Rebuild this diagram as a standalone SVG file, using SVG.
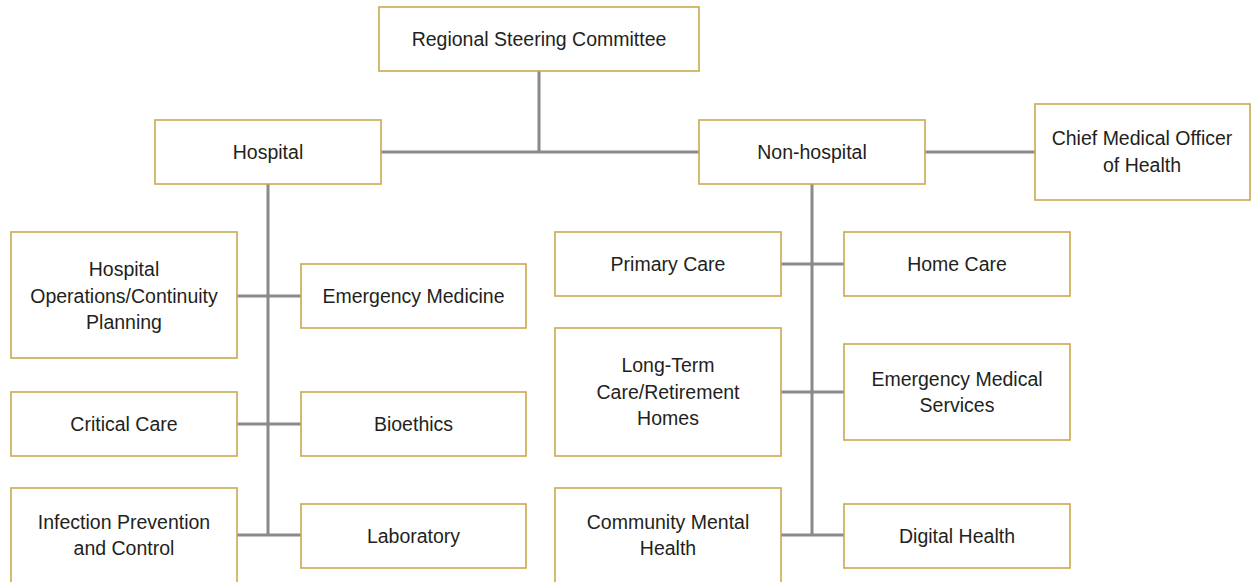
<svg xmlns="http://www.w3.org/2000/svg" width="1251" height="582" viewBox="0 0 1251 582">
<style>
.box{fill:#fff;stroke:#c9a94b;stroke-width:1.6}
.lbl{font-family:"Liberation Sans",Arial,sans-serif;font-size:19.5px;fill:#231f20;text-anchor:middle}
.conn{stroke:#8a8a8c;stroke-width:3;fill:none}
</style>
<rect width="1251" height="582" fill="#fff"/>
<g id="connectors">
<path class="conn" d="M539 71V152M381 152H699M925 152H1035"/>
<path class="conn" d="M268 184V535M237 296H301M237 424H301M237 535H301"/>
<path class="conn" d="M812 184V535M781 264H844M781 392H844M781 535H844"/>
</g>
<g id="regional-steering-committee"><rect class="box" x="379" y="7" width="320" height="64"/><text class="lbl" x="539" y="46">Regional Steering Committee</text></g>
<g id="hospital"><rect class="box" x="155" y="120" width="226" height="64"/><text class="lbl" x="268" y="159">Hospital</text></g>
<g id="non-hospital"><rect class="box" x="699" y="120" width="226" height="64"/><text class="lbl" x="812" y="159">Non-hospital</text></g>
<g id="chief-medical-officer"><rect class="box" x="1035" y="104" width="215" height="96"/><text class="lbl" x="1142" y="145">Chief Medical Officer</text><text class="lbl" x="1142" y="171.5">of Health</text></g>
<g id="hospital-operations"><rect class="box" x="11" y="232" width="226" height="126"/><text class="lbl" x="124" y="276">Hospital</text><text class="lbl" x="124" y="302.5">Operations/Continuity</text><text class="lbl" x="124" y="329">Planning</text></g>
<g id="emergency-medicine"><rect class="box" x="301" y="264" width="225" height="64"/><text class="lbl" x="413.5" y="303">Emergency Medicine</text></g>
<g id="critical-care"><rect class="box" x="11" y="392" width="226" height="64"/><text class="lbl" x="124" y="431">Critical Care</text></g>
<g id="bioethics"><rect class="box" x="301" y="392" width="225" height="64"/><text class="lbl" x="413.5" y="431">Bioethics</text></g>
<g id="infection-prevention"><rect class="box" x="11" y="488" width="226" height="96"/><text class="lbl" x="124" y="528.5">Infection Prevention</text><text class="lbl" x="124" y="555">and Control</text></g>
<g id="laboratory"><rect class="box" x="301" y="504" width="225" height="64"/><text class="lbl" x="413.5" y="543">Laboratory</text></g>
<g id="primary-care"><rect class="box" x="555" y="232" width="226" height="64"/><text class="lbl" x="668" y="271">Primary Care</text></g>
<g id="home-care"><rect class="box" x="844" y="232" width="226" height="64"/><text class="lbl" x="957" y="271">Home Care</text></g>
<g id="long-term-care"><rect class="box" x="555" y="328" width="226" height="128"/><text class="lbl" x="668" y="372">Long-Term</text><text class="lbl" x="668" y="398.5">Care/Retirement</text><text class="lbl" x="668" y="425">Homes</text></g>
<g id="emergency-medical-services"><rect class="box" x="844" y="344" width="226" height="96"/><text class="lbl" x="957" y="385.5">Emergency Medical</text><text class="lbl" x="957" y="412">Services</text></g>
<g id="community-mental-health"><rect class="box" x="555" y="488" width="226" height="96"/><text class="lbl" x="668" y="528.5">Community Mental</text><text class="lbl" x="668" y="555">Health</text></g>
<g id="digital-health"><rect class="box" x="844" y="504" width="226" height="64"/><text class="lbl" x="957" y="543">Digital Health</text></g>
</svg>
